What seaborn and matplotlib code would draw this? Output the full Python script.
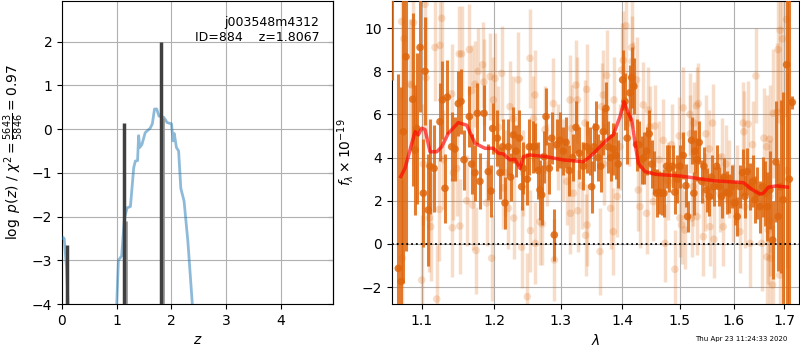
import matplotlib
matplotlib.use("Agg")
import matplotlib.pyplot as plt
import seaborn as sns

# redshift probability, log p(z)
pz_z = [0.0, 0.02, 0.04, 0.085, 0.12, 0.2, 0.95, 1.0, 1.03, 1.09, 1.14, 1.19, 1.25,
        1.31, 1.34, 1.38, 1.40, 1.42, 1.46, 1.52, 1.61, 1.65, 1.69, 1.73, 1.77,
        1.86, 1.92, 2.0, 2.03, 2.05, 2.09, 2.13, 2.17, 2.23, 2.30, 2.38, 2.45, 4.95]
pz_logp = [-2.5, -2.48, -2.5, -3.2, -4.3, -8.0, -8.0, -4.0, -3.0, -2.9, -2.04, -1.8, -1.77,
           -0.88, -0.73, -0.72, -0.15, -0.42, -0.35, -0.08, 0.02, 0.12, 0.46, 0.46, 0.3,
           0.27, 0.15, 0.12, -0.27, -0.1, -0.42, -0.5, -1.35, -1.65, -2.58, -4.0, -6.0, -8.0]

# fine-grid peaks
spike_z = [0.085, 1.125, 1.800]
spike_logp = [-2.65, 0.13, 2.0]
spike2_z = [0.095, 1.16, 1.84]
spike2_logp = [-3.6, -2.1, 0.25]

# best-fit model
model_wave = [1.0726, 1.0781, 1.0846, 1.0912, 1.0955, 1.1000, 1.1044, 1.1110, 1.1200, 1.1268,
              1.1357, 1.1494, 1.1611, 1.1728, 1.1869, 1.1988, 1.2060, 1.2133, 1.2231, 1.2305,
              1.2379, 1.2429, 1.2528, 1.2783, 1.3040, 1.3358, 1.3465, 1.3575, 1.3739, 1.3848,
              1.3960, 1.4028, 1.4100, 1.4158, 1.4215, 1.4270, 1.4386, 1.4589, 1.5003, 1.5308,
              1.5616, 1.5933, 1.6190, 1.6355, 1.6519, 1.6584, 1.6684, 1.6853, 1.7070]
model_flux = [3.12, 3.50, 4.35, 5.2, 5.05, 5.36, 5.3, 4.27, 4.27, 4.5,
              5.12, 5.62, 5.5, 4.66, 4.43, 4.43, 4.2, 4.17, 3.89, 3.92,
              3.5, 4.04, 4.12, 4.04, 3.89, 3.81, 4.04, 4.35, 4.81, 5.05,
              5.9, 6.59, 6.05, 5.74, 4.66, 3.74, 3.35, 3.22, 3.15, 3.04,
              2.93, 2.88, 2.84, 2.53, 2.31, 2.35, 2.63, 2.69, 2.63]

# spectrum, high-weight points
dark_wave = [1.0611, 1.0695, 1.0730, 1.0760, 1.0794, 1.0882, 1.0912, 1.0934, 1.0978, 1.1022,
             1.1044, 1.1087, 1.1111, 1.1164, 1.1244, 1.1276, 1.1312, 1.1344, 1.1403, 1.1449,
             1.1495, 1.1532, 1.1573, 1.1648, 1.1681, 1.1727, 1.1760, 1.1797, 1.1855, 1.1916,
             1.1955, 1.1979, 1.2046, 1.2085, 1.2124, 1.2158, 1.2207, 1.2241, 1.2281, 1.2320,
             1.2369, 1.2404, 1.2429, 1.2488, 1.2518, 1.2570, 1.2604, 1.2655, 1.2680, 1.2706,
             1.2741, 1.2772, 1.2823, 1.2860, 1.2900, 1.2937, 1.2989, 1.3040, 1.3083, 1.3134,
             1.3188, 1.3240, 1.3293, 1.3358, 1.3411, 1.3465, 1.3493, 1.3530, 1.3562, 1.3600,
             1.3640, 1.3682, 1.3726, 1.3764, 1.3804, 1.3847, 1.3891, 1.3930, 1.4004, 1.4043,
             1.4081, 1.4127, 1.4156, 1.4195, 1.4241, 1.4285, 1.4327, 1.4367, 1.4413, 1.4458,
             1.4505, 1.4540, 1.4587, 1.4634, 1.4676, 1.4716, 1.4765, 1.4810, 1.4871, 1.4911,
             1.4953, 1.5001, 1.5061, 1.5111, 1.5141, 1.5214, 1.5256, 1.5275, 1.5317, 1.5353,
             1.5398, 1.5441, 1.5491, 1.5539, 1.5584, 1.5628, 1.5678, 1.5728, 1.5772, 1.5817,
             1.5869, 1.5918, 1.5964, 1.6027, 1.6072, 1.6123, 1.6176, 1.6220, 1.6266, 1.6320,
             1.6372, 1.6418, 1.6463, 1.6517, 1.6570, 1.6616, 1.6661, 1.6716, 1.6770, 1.6837,
             1.6884, 1.6931, 1.6985, 1.7054, 1.7109, 1.7171]
dark_flux = [12.0, -1.13, -1.74, 5.2, 8.67, 6.7, 4.35, 5.35, 9.1, 2.35,
             8.0, 1.57, 3.6, 3.5, 5.66, 6.67, 2.58, 6.8, 4.5, 4.4,
             6.5, 6.6, 3.9, 5.9, 3.7, 3.3, 6.05, 2.9, 6.05, 3.35,
             2.45, 5.35, 4.9, 3.3, 4.5, 1.9, 4.5, 3.1, 5.05, 4.3,
             4.9, 2.65, 3.5, 3.0, 4.5, 4.5, 4.5, 3.4, 2.5, 2.27,
             4.04, 5.9, 3.5, 4.9, 0.42, 4.6, 4.8, 4.3, 4.7, 3.4,
             4.0, 5.4, 4.2, 3.6, 4.5, 4.3, 2.65, 4.5, 5.4, 4.0,
             3.6, 5.2, 6.28, 4.5, 4.0, 4.4, 4.1, 3.7, 7.6, 6.6,
             4.9, 7.0, 7.7, 7.3, 4.6, 4.6, 3.9, 4.0, 4.3, 5.1,
             3.7, 3.3, 2.35, 2.4, 2.35, 2.35, 3.6, 3.5, 3.6, 2.4,
             3.0, 3.6, 4.1, 2.7, 1.27, 4.8, 2.35, 4.3, 3.9, 4.7,
             2.9, 3.6, 2.5, 2.2, 3.1, 2.65, 3.6, 2.65, 2.2, 3.1,
             2.4, 2.35, 2.65, 1.9, 1.27, 2.65, 3.3, 2.2, 3.35, 2.65,
             2.9, 2.05, 2.35, 1.73, 2.65, 2.35, 1.73, 2.5, 0.18, 3.8,
             1.27, 2.65, 2.05, 8.3, 3.0, 6.56]
dark_err = [4.4, 9.0, 9.0, 7.0, 9.0, 4.0, 3.0, 3.5, 3.0, 2.5,
            2.5, 2.6, 2.2, 2.0, 1.8, 1.8, 1.6, 1.7, 1.6, 1.5,
            1.5, 1.5, 1.4, 1.4, 1.4, 1.3, 1.4, 1.3, 1.3, 1.3,
            1.2, 1.2, 1.3, 1.2, 1.3, 1.2, 1.3, 1.1, 1.3, 1.2,
            1.3, 1.1, 1.2, 1.2, 1.3, 1.2, 1.1, 1.3, 1.4, 1.4,
            1.2, 1.3, 1.2, 1.2, 1.2, 1.2, 1.3, 1.1, 1.2, 1.2,
            1.1, 1.2, 1.2, 1.1, 1.2, 1.1, 1.2, 1.1, 1.2, 1.1,
            1.2, 1.1, 1.2, 1.2, 1.1, 1.2, 1.1, 1.1, 1.4, 1.3,
            1.2, 1.3, 1.4, 1.3, 1.2, 1.1, 1.1, 1.2, 1.1, 1.1,
            1.1, 1.0, 1.1, 1.0, 1.0, 1.1, 1.0, 1.1, 1.0, 1.0,
            1.1, 1.0, 1.1, 1.0, 0.7, 1.1, 1.0, 1.0, 1.0, 1.0,
            1.0, 0.9, 1.0, 0.9, 1.0, 0.9, 1.0, 0.9, 1.0, 0.9,
            1.0, 0.9, 1.0, 1.0, 0.9, 1.0, 1.1, 1.0, 1.1, 1.1,
            1.2, 1.1, 1.2, 1.2, 1.4, 1.5, 1.6, 1.8, 1.8, 2.8,
            2.5, 4.0, 5.0, 12.0, 12.0, 0.3]

# spectrum, low-weight points
light_wave = [1.0738, 1.0745, 1.0769, 1.0846, 1.0868, 1.0890, 1.1000, 1.1022, 1.1044, 1.1057,
              1.1101, 1.1119, 1.1177, 1.1200, 1.1236, 1.1245, 1.1267, 1.1290, 1.1403, 1.1412,
              1.1426, 1.1472, 1.1508, 1.1515, 1.1541, 1.1611, 1.1648, 1.1680, 1.1694, 1.1727,
              1.1741, 1.1774, 1.1836, 1.1855, 1.1893, 1.1941, 1.1964, 1.1989, 1.2013, 1.2061,
              1.2110, 1.2134, 1.2158, 1.2207, 1.2231, 1.2280, 1.2287, 1.2354, 1.2404, 1.2428,
              1.2488, 1.2528, 1.2535, 1.2578, 1.2603, 1.2610, 1.2679, 1.2715, 1.2756, 1.2781,
              1.2886, 1.2901, 1.2955, 1.3030, 1.3094, 1.3146, 1.3153, 1.3172, 1.3198, 1.3241,
              1.3262, 1.3269, 1.3331, 1.3384, 1.3395, 1.3411, 1.3418, 1.3628, 1.3655, 1.3682,
              1.3689, 1.3737, 1.3803, 1.3848, 1.3859, 1.3914, 1.3960, 1.3987, 1.4015, 1.4060,
              1.4116, 1.4156, 1.4163, 1.4184, 1.4241, 1.4270, 1.4298, 1.4356, 1.4413, 1.4442,
              1.4471, 1.4529, 1.4558, 1.4630, 1.4704, 1.4734, 1.4790, 1.4852, 1.4911, 1.4989,
              1.5001, 1.5031, 1.5061, 1.5092, 1.5183, 1.5190, 1.5214, 1.5245, 1.5257, 1.5306,
              1.5313, 1.5337, 1.5429, 1.5460, 1.5479, 1.5541, 1.5553, 1.5603, 1.5628, 1.5741,
              1.5772, 1.5804, 1.5855, 1.5920, 1.5995, 1.6060, 1.6123, 1.6188, 1.6201, 1.6220,
              1.6285, 1.6318, 1.6371, 1.6437, 1.6549, 1.6595, 1.6648, 1.6655, 1.6681, 1.6708,
              1.6714, 1.6720, 1.6726, 1.6768, 1.6782, 1.6862, 1.6882, 1.6916, 1.6922, 1.6970,
              1.7051, 1.7065]
light_flux = [10.3, -0.66, 9.5, 7.4, 7.36, 10.25, -1.67, 3.7, 11.1, 7.7,
              1.2, 0.8, 9.1, -2.55, 1.6, 9.2, 10.45, 3.9, 6.95, 0.75,
              3.3, 3.5, 8.8, 0.83, 8.8, 2.0, 9.0, 7.1, 1.8, 7.4,
              -0.3, 8.0, 8.3, 7.5, 1.9, 7.75, -0.66, 6.67, 7.67, 5.4,
              7.9, 2.6, 3.3, 1.65, 6.36, 5.8, 1.2, 7.6, -0.15, 3.3,
              -2.44, 8.6, 0.62, 5.8, 6.9, 0.03, 1.03, 0.93, 5.3, 3.65,
              6.5, -0.74, 4.5, 3.9, 2.9, 6.67, 1.42, 5.35, 2.35, 7.36,
              6.67, 1.54, 2.7, 5.6, 0.4, 7.16, 0.88, -0.35, 6.36, 6.9,
              3.7, 7.8, 1.65, 0.57, 6.67, 2.2, 4.5, 8.05, 8.5, 10.1,
              5.6, 9.1, 8.45, 7.36, 7.6, 2.5, 1.73, 6.44, 1.42, 6.2,
              5.43, 1.96, 5.46, 3.9, 4.8, 0.03, 2.9, 4.6, -1.17, 5.0,
              1.2, 0.88, 6.3, 0.65, 6.0, 5.1, 1.2, 2.65, 5.6, 6.4,
              1.27, 6.5, 0.34, 2.4, 5.1, 4.4, 0.8, 5.6, 0.22, 2.35,
              4.04, 0.8, 3.7, 3.0, 1.9, 2.8, 0.57, 5.6, 5.2, 1.73,
              5.55, 0.03, 4.6, 7.78, 0.03, 4.9, 4.5, -0.6, 0.65, 4.85,
              2.2, 1.1, -0.66, -1.9, 6.05, 6.1, 9.0, -1.44, 9.9, 9.5,
              10.4, 3.4]
light_err = [3.6, 3.6, 3.5, 3.0, 3.0, 3.0, 3.0, 2.8, 2.8, 2.8,
             2.5, 2.5, 2.5, 2.5, 2.4, 2.4, 2.4, 2.3, 2.3, 2.3,
             2.2, 2.2, 2.2, 2.2, 2.2, 2.1, 2.1, 2.1, 2.1, 2.0,
             2.0, 2.0, 2.0, 2.0, 2.0, 2.0, 2.0, 2.0, 2.1, 1.9,
             2.2, 1.9, 2.0, 1.9, 2.1, 2.0, 1.9, 2.2, 1.9, 2.0,
             2.0, 2.3, 1.9, 2.0, 2.1, 1.9, 2.0, 1.9, 2.0, 1.9,
             2.1, 1.9, 2.0, 1.9, 2.0, 2.1, 1.9, 2.0, 1.9, 2.1,
             2.0, 1.9, 2.0, 2.0, 1.9, 2.1, 1.9, 2.0, 2.0, 2.1,
             1.9, 2.1, 1.9, 2.0, 2.0, 1.9, 2.0, 2.2, 2.3, 2.4,
             2.0, 2.2, 2.1, 2.0, 2.0, 1.9, 1.9, 2.0, 1.9, 2.0,
             1.9, 1.8, 1.9, 1.8, 1.9, 1.8, 1.8, 1.9, 1.8, 1.8,
             1.8, 1.8, 1.9, 1.8, 1.9, 1.8, 1.8, 1.8, 1.9, 1.8,
             1.8, 1.9, 1.8, 1.8, 1.8, 1.8, 1.8, 1.8, 1.8, 1.8,
             1.8, 1.8, 1.8, 1.8, 1.8, 1.8, 1.9, 1.9, 1.9, 1.9,
             2.0, 2.0, 2.0, 2.2, 2.2, 2.3, 2.4, 2.4, 2.5, 2.5,
             2.6, 2.6, 2.6, 2.8, 3.0, 3.2, 3.4, 3.6, 3.8, 4.0,
             4.5, 4.5]

obj_label = "j003548m4312\nID=884    z=1.8067"
pz_ylabel = r"$\log\ p(z)$ / $\chi^2=\frac{5643}{5846}=0.97$"
timestamp = "Thu Apr 23 11:24:33 2020"
wave_ticks = [1.1, 1.2, 1.3, 1.4, 1.5, 1.6, 1.7]

spec_color = (0.87, 0.40, 0.05)

plt.rcParams["font.family"] = ["DejaVu Sans"]
plt.rcParams["font.size"] = 10

fig = plt.figure(figsize=(8, 3.5), dpi=100)
ax_pz = fig.add_axes([0.0775, 0.1314, 0.33875, 0.8657])
ax_sp = fig.add_axes([0.49, 0.1314, 0.50875, 0.8657])

# left: p(z)
sns.lineplot(x=pz_z, y=pz_logp, color="C0", alpha=0.5, linewidth=2,
             sort=False, estimator=None, ax=ax_pz, zorder=3)
ax_pz.vlines(spike2_z, -5, spike2_logp, color="0.6", linewidth=2, zorder=4)
ax_pz.vlines(spike_z, -5, spike_logp, color="0.25", linewidth=2.5, zorder=5)
ax_pz.set_xlim(0, 4.95)
ax_pz.set_ylim(-4, 2.93)
ax_pz.set_xticks([0, 1, 2, 3, 4])
ax_pz.set_yticks([-4, -3, -2, -1, 0, 1, 2])
ax_pz.set_xlabel(r"$z$")
ax_pz.set_ylabel(pz_ylabel)
ax_pz.grid(True)
ax_pz.text(0.95, 0.95, obj_label, ha="right", va="top", multialignment="right",
           transform=ax_pz.transAxes, fontsize=9)
sec = ax_pz.secondary_yaxis("right")
sec.set_yticks([-4, -3, -2, -1, 0, 1, 2])
sec.tick_params(direction="in", labelright=False)

# right: spectrum
ax_sp.errorbar(light_wave, light_flux, light_err, fmt="none", ecolor=spec_color,
               alpha=0.22, elinewidth=2.5, zorder=2)
sns.scatterplot(x=light_wave, y=light_flux, color=spec_color, alpha=0.22, s=30,
                edgecolor="none", ax=ax_sp, zorder=2)
ax_sp.errorbar(dark_wave, dark_flux, dark_err, fmt="none", ecolor=spec_color,
               alpha=0.85, elinewidth=2.2, zorder=3)
sns.scatterplot(x=dark_wave, y=dark_flux, color=spec_color, alpha=0.85, s=30,
                edgecolor="none", ax=ax_sp, zorder=3)
sns.lineplot(x=model_wave, y=model_flux, color="red", alpha=0.65, linewidth=2.5,
             sort=False, estimator=None, ax=ax_sp, zorder=4)
ax_sp.axhline(0, color="k", linestyle=":", linewidth=1.3, zorder=5)

ax_sp.set_xscale("log")
ax_sp.set_xlim(1.0614, 1.731)
ax_sp.set_ylim(-2.78, 11.25)
ax_sp.set_xticks(wave_ticks)
ax_sp.set_xticklabels([f"{w:.1f}" for w in wave_ticks])
ax_sp.xaxis.set_minor_locator(plt.NullLocator())
ax_sp.set_yticks([-2, 0, 2, 4, 6, 8, 10])
ax_sp.set_xlabel(r"$\lambda$")
ax_sp.set_ylabel(r"$f_\lambda \times 10^{-19}$")
ax_sp.grid(True)

fig.text(0.984, 0.022, timestamp, ha="right", va="bottom", fontsize=5)

fig.savefig("out.png", dpi=100)
